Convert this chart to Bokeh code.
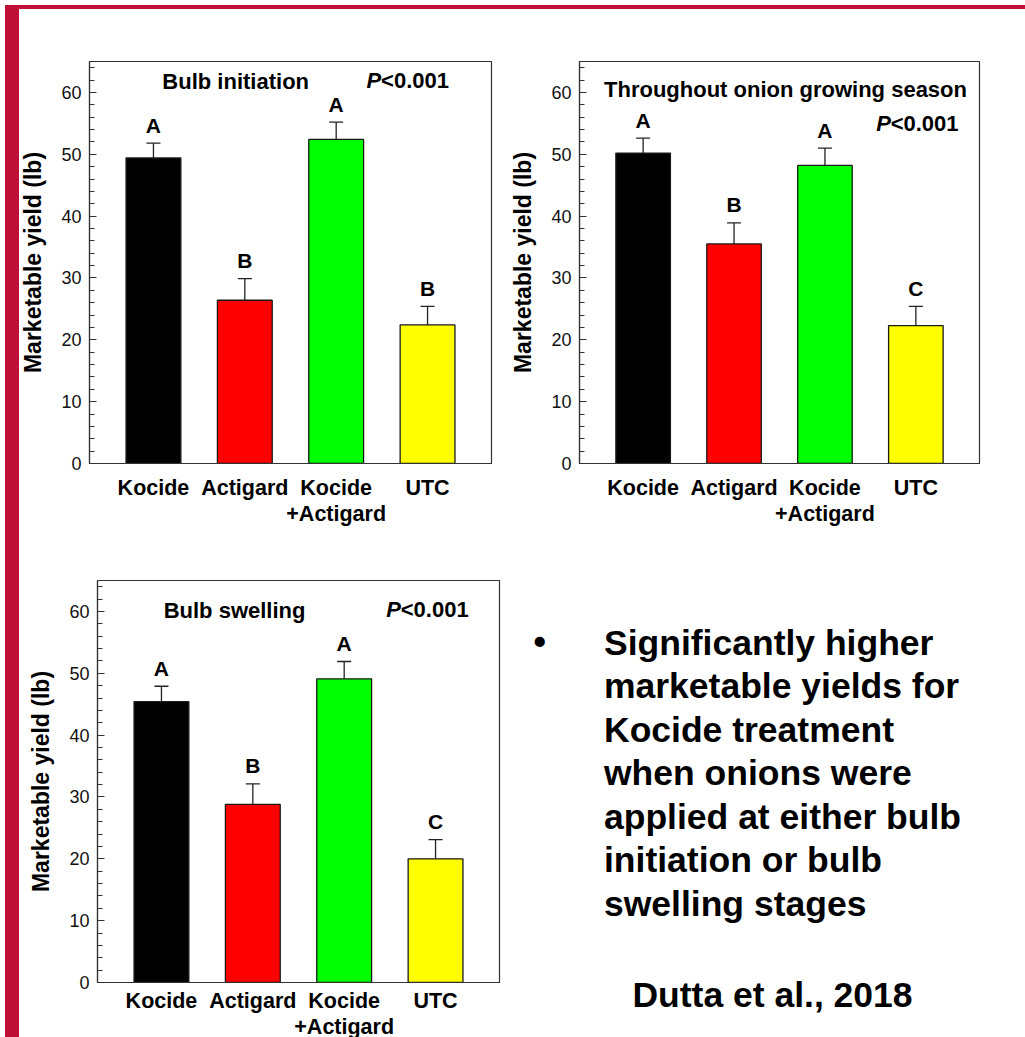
from bokeh.plotting import figure
from bokeh.models import (Range1d, SingleIntervalTicker, FixedTicker, Whisker, TeeHead,
                          ColumnDataSource, Label, Div)
from bokeh.layouts import column, row
from bokeh.embed import file_html
from bokeh.resources import INLINE
from bokeh.core.properties import value

FONT = "Liberation Sans"
STRIPE = "#BE1037"

# ---------------- data ----------------
categories = ["Kocide", "Actigard", "Kocide+Actigard", "UTC"]
tick_labels = ["Kocide", "Actigard", "Kocide\n+Actigard", "UTC"]
bar_colors = ["#000000", "#FF0000", "#00FF00", "#FFFF00"]

bulb_init_mean = [49.4, 26.4, 52.4, 22.4]
bulb_init_se = [2.4, 3.5, 2.8, 3.0]
bulb_init_letters = ["A", "B", "A", "B"]

season_mean = [50.2, 35.5, 48.2, 22.3]
season_se = [2.4, 3.4, 2.8, 3.1]
season_letters = ["A", "B", "A", "C"]

swelling_mean = [45.4, 28.8, 49.1, 20.0]
swelling_se = [2.5, 3.3, 2.8, 3.1]
swelling_letters = ["A", "B", "A", "C"]

y_label = "Marketable yield (lb)"
p_text = "<0.001"

bullet_lines = ["Significantly higher", "marketable yields for", "Kocide treatment",
                "when onions were", "applied at either bulb", "initiation or bulb",
                "swelling stages"]
citation = "Dutta et al., 2018"


def make_chart(mean, se, letters, title, title_pos, p_pos, borders, fw, x_standoff):
    left, right, top, bottom = borders
    xs = list(range(len(categories)))
    upper = [m + s for m, s in zip(mean, se)]
    src = ColumnDataSource(dict(x=xs, top=mean, upper=upper, color=bar_colors, letter=letters))
    p = figure(frame_width=fw, frame_height=402, title=None,
               x_range=Range1d(-0.7, 3.7), y_range=Range1d(0, 65),
               output_backend="svg", toolbar_location=None,
               min_border_left=left, min_border_right=right,
               min_border_top=top, min_border_bottom=bottom,
               background_fill_color="white", border_fill_color="white")
    p.vbar(x="x", top="top", bottom=0, width=0.6, fill_color="color",
           line_color="#1a1a1a", line_width=1.3, source=src)
    w = Whisker(source=src, base="x", upper="upper", lower="top", dimension="height",
                line_color="#222222", line_width=1.3, lower_head=None,
                upper_head=TeeHead(size=14, line_color="#222222", line_width=1.3))
    p.add_layout(w)
    p.text(x="x", y="upper", text="letter", source=src, text_align="center",
           text_baseline="middle", y_offset=-18, text_font=value(FONT),
           text_font_style="bold", text_font_size="21px", text_color="black")

    p.add_layout(Label(x=title_pos[0], y=title_pos[1], text=title, text_align="center",
                       text_baseline="middle", text_font=FONT, text_font_style="bold",
                       text_font_size="22px", text_color="black"))
    p.add_layout(Label(x=p_pos[0], y=p_pos[1], text="P", text_align="left",
                       text_baseline="middle", text_font=FONT, text_font_style="bold italic",
                       text_font_size="22px", text_color="black"))
    p.add_layout(Label(x=p_pos[0], y=p_pos[1], x_offset=14.5, text=p_text, text_align="left",
                       text_baseline="middle", text_font=FONT, text_font_style="bold",
                       text_font_size="22px", text_color="black"))

    p.xgrid.visible = False
    p.ygrid.visible = False
    p.outline_line_color = "#333333"
    p.outline_line_width = 1.2

    ya = p.yaxis[0]
    ya.ticker = SingleIntervalTicker(interval=10, num_minor_ticks=5)
    ya.major_tick_in = 7
    ya.major_tick_out = 0
    ya.minor_tick_in = 5
    ya.minor_tick_out = 0
    ya.axis_line_color = "#333333"
    ya.axis_line_width = 1.2
    ya.major_tick_line_color = "#333333"
    ya.minor_tick_line_color = "#333333"
    ya.major_label_text_font = FONT
    ya.major_label_text_font_size = "18px"
    ya.major_label_text_color = "#111111"
    ya.major_label_standoff = 8
    ya.axis_label = y_label
    ya.axis_label_text_font = FONT
    ya.axis_label_text_font_style = "bold"
    ya.axis_label_text_font_size = "23px"
    ya.axis_label_text_color = "black"
    ya.axis_label_standoff = 12

    xa = p.xaxis[0]
    xa.ticker = FixedTicker(ticks=xs)
    xa.major_label_overrides = {i: lbl for i, lbl in enumerate(tick_labels)}
    xa.major_tick_line_color = None
    xa.minor_tick_line_color = None
    xa.axis_line_color = "#333333"
    xa.axis_line_width = 1.2
    xa.major_label_text_font = FONT
    xa.major_label_text_font_style = "bold"
    xa.major_label_text_font_size = "21.5px"
    xa.major_label_text_color = "black"
    xa.major_label_text_line_height = 1.1
    xa.major_label_standoff = x_standoff
    return p


p1 = make_chart(bulb_init_mean, bulb_init_se, bulb_init_letters, "Bulb initiation",
                (0.90, 61.8), (2.333, 61.9), (89, 13, 61, 78), 402, 6)
p2 = make_chart(season_mean, season_se, season_letters, "Throughout onion growing season",
                (1.566, 60.5), (2.563, 54.9), (75, 46, 61, 77), 400, 6)
p3 = make_chart(swelling_mean, swelling_se, swelling_letters, "Bulb swelling",
                (0.80, 60.2), (2.46, 60.3), (97, 29, 39, 56), 402, 0)

# text panel (its frame top is aligned with the bottom chart's frame top)
pt = figure(frame_width=497, frame_height=458, title=None,
            x_range=Range1d(0, 497), y_range=Range1d(458, 0),
            output_backend="svg", toolbar_location=None,
            min_border_left=0, min_border_right=0, min_border_top=39, min_border_bottom=0,
            x_axis_type=None, y_axis_type=None,
            background_fill_color="white", border_fill_color="white")
pt.xgrid.visible = False
pt.ygrid.visible = False
pt.outline_line_color = None
pt.add_layout(Label(x=5, y=61, text="\u2022", text_font=FONT, text_font_style="bold",
                    text_font_size="35.5px", text_baseline="middle", text_color="black"))
for i, line in enumerate(bullet_lines):
    pt.add_layout(Label(x=75.5, y=62 + i * 43.5, text=line, text_font=FONT,
                        text_font_style="bold", text_font_size="35.5px",
                        text_baseline="middle", text_color="black"))
pt.add_layout(Label(x=244, y=414.5, text=citation, text_font=FONT, text_font_style="bold",
                    text_font_size="35.5px", text_align="center", text_baseline="middle",
                    text_color="black"))

stripe_left = Div(text="", width=14, height=1037,
                  styles={"position": "fixed", "left": "0px", "top": "0px",
                          "background-color": STRIPE, "z-index": "10"})
stripe_top = Div(text="", width=1025, height=4,
                 styles={"position": "fixed", "left": "0px", "top": "0px",
                         "background-color": STRIPE, "z-index": "10"})

layout = column(row(p1, p2), row(p3, pt), stripe_left, stripe_top)

open("out.html", "w").write(file_html(layout, INLINE))
